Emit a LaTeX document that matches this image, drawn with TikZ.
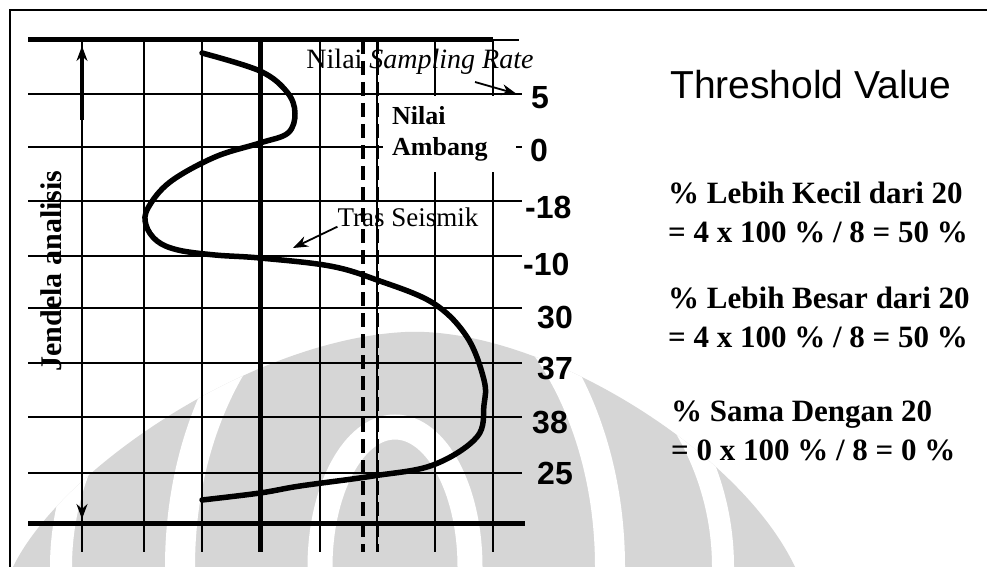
\documentclass[tikz,border=0pt]{standalone}
\usepackage{fontspec}
\setmainfont{Liberation Serif}
\newfontfamily\arialfont{Liberation Sans}
\usepackage{tikz}
\usetikzlibrary{positioning,arrows.meta,calc}

\begin{document}
\begin{tikzpicture}[x=1pt, y=-1pt, >={Stealth[length=15pt,width=11pt]},
    every node/.style={inner sep=0pt},
    gridline/.style={line width=1.8pt},
    heavyline/.style={line width=5pt},
    ambangline/.style={line width=4pt, dash pattern=on 14pt off 7pt},
    trace/.style={line width=5.5pt, line cap=round, line join=round},
    wmring/.style={white, line width=#1},
    valnum/.style={font=\arialfont\bfseries\fontsize{32}{36}\selectfont, anchor=west},
    sumtext/.style={font=\bfseries\fontsize{31}{39}\selectfont, align=left, anchor=west}]
  \def\gxl{28}
  \def\gxr{522}

  \useasboundingbox (0,0) rectangle (987,567);
  \fill[white] (0,0) rectangle (987,567);

  \begin{scope}
    \clip (13,567) .. controls (60,470) and (250,340) .. (405,332)
          .. controls (540,326) and (740,450) .. (795,567) -- cycle;
    \fill[black!16] (0,300) rectangle (987,567);
    \draw[wmring=22pt] (392,567) ellipse [x radius=331pt, y radius=300pt];
    \draw[wmring=30pt] (395,567) ellipse [x radius=215pt, y radius=310pt];
    \draw[wmring=25pt] (395,567) ellipse [x radius=75pt, y radius=140pt];
  \end{scope}

  \draw[line width=2pt] (10,567) -- (10,10) -- (987,10);

  \foreach \yy in {94,147,201,256,308,363,417,473}
    \draw[gridline] (\gxl,\yy) -- (\gxr,\yy);
  \foreach \xx in {82,144,202,320,377,435,493}
    \draw[gridline] (\xx,40) -- (\xx,552);
  \draw[heavyline] (260,40) -- (260,552);
  \draw[heavyline] (\gxl,40) -- (493,40);
  \draw[gridline] (493,40) -- (519,40);
  \draw[heavyline] (\gxl,523) -- (525,523);

  \node[fill=white, text width=115pt, inner xsep=9pt, minimum height=76pt,
        align=left, anchor=north west, font=\bfseries\fontsize{26}{31}\selectfont]
        (ambang) at (383,96) {Nilai\\Ambang};

  \draw[ambangline] (363,40) -- (363,552);
  \draw[ambangline, line width=3pt] (377,40) -- (377,552);

  \coordinate (wintop) at (82,46);
  \coordinate (winbot) at (82,519);
  \draw[line width=4.5pt] (82,55) -- (82,120);
  \draw[<->, line width=2pt] (wintop) -- (winbot);
  \node[rotate=90, font=\bfseries\fontsize{30}{36}\selectfont] (jendela) at (51,271) {Jendela analisis};

  \draw[trace] plot[smooth, tension=0.6] coordinates {
    (202,53) (260,71) (287,92) (295,113) (288,133) (260,143) (215,157)
    (170,182) (148,208) (146,225) (157,241) (178,250) (215,255) (260,258)
    (330,266) (377,280) (433,303) (467,337) (484,380) (484,405) (477,437)
    (433,465) (373,476) (300,486) (260,493) (202,500)};

  \node[font=\fontsize{28}{34}\selectfont] (samp) at (420,62) {Nilai \textit{Sampling Rate}};
  \node[font=\fontsize{27}{32}\selectfont] (tras) at (408,217) {Tras Seismik};

  \foreach \val/\xx/\yy [count=\i] in {5/531/98, 0/530/150, -18/525/207, -10/523/264,
                                       30/537/318, 37/537/369, 38/532/423, 25/537/473}
    \node[valnum] (v\i) at (\xx,\yy) {\val};

  \coordinate (sampfoot) at (475,82);
  \coordinate (trastip) at (293,248);
  \draw[->, line width=1.8pt, shorten >=15pt] (sampfoot) -- (v1.west);
  \draw[->, line width=1.8pt] (tras.south west) -- (trastip);

  \node[font=\arialfont\fontsize{39}{44}\selectfont, anchor=west] (title) at (670,85) {Threshold Value};
  \node[sumtext] (kecil) at (668,212) {\% Lebih Kecil dari 20\\= 4 x 100 \% / 8 = 50 \%};
  \node[sumtext] (besar) at (668,317) {\% Lebih Besar dari 20\\= 4 x 100 \% / 8 = 50 \%};
  \node[sumtext] (sama) at (671,431) {\% Sama Dengan 20\\= 0 x 100 \% / 8 = 0 \%};
\end{tikzpicture}
\end{document}
